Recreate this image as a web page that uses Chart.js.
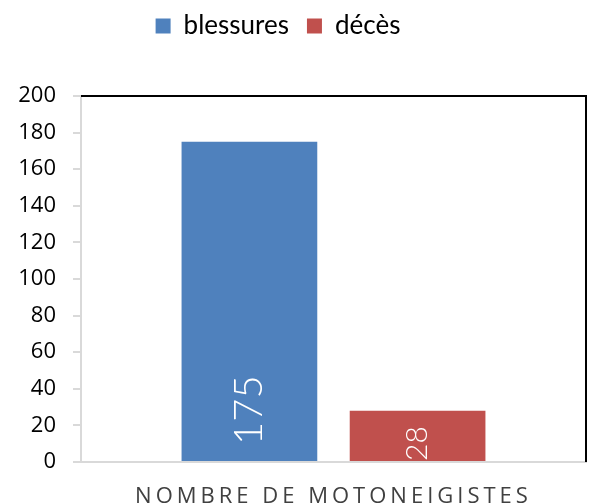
<!DOCTYPE html>
<html><head><meta charset="utf-8">
<script src="https://cdn.jsdelivr.net/npm/chart.js@4"></script>
<style>html,body{margin:0;padding:0;background:#fff}</style>
</head>
<body>
<canvas id="c" width="589" height="503"></canvas>
<script>
const categories = ["NOMBRE DE MOTONEIGISTES"];
const seriesNames = ["blessures", "décès"];
const blessures = [175];
const deces = [28];
const yMin = 0, yMax = 200, yStep = 20;
const seriesColors = ["#4F81BD", "#C0504D"];

const labelFontSizes = [40, 30];
const labelBaseOffsets = [16, 0];

const valueLabels = {
  id: 'valueLabels',
  afterDatasetsDraw(chart) {
    const ctx = chart.ctx;
    chart.data.datasets.forEach((ds, i) => {
      const meta = chart.getDatasetMeta(i);
      meta.data.forEach((bar, j) => {
        ctx.save();
        ctx.fillStyle = '#ffffff';
        ctx.font = '300 ' + labelFontSizes[i] + 'px Lato, "Open Sans", sans-serif';
        ctx.textAlign = 'left';
        ctx.textBaseline = 'middle';
        ctx.translate(bar.x, bar.base - labelBaseOffsets[i]);
        ctx.rotate(-Math.PI / 2);
        ctx.fillText(String(ds.data[j]), 0, 0);
        ctx.restore();
      });
    });
  }
};

const frame = {
  id: 'frame',
  afterDraw(chart) {
    const a = chart.chartArea, ctx = chart.ctx;
    ctx.save();
    ctx.strokeStyle = '#000';
    ctx.lineWidth = 2;
    ctx.beginPath();
    ctx.moveTo(a.left, a.top);
    ctx.lineTo(a.right, a.top);
    ctx.lineTo(a.right, a.bottom);
    ctx.stroke();
    ctx.restore();
  }
};

const tweaks = {
  id: 'tweaks',
  beforeInit(chart) {
    const lg = chart.legend;
    const fit = lg.fit;
    lg.fit = function () { fit.call(lg); lg.height = 96; };
    const draw = lg.draw;
    lg.draw = function () {
      const ctx = chart.ctx; ctx.save(); ctx.translate(-15, -5); draw.call(lg); ctx.restore();
    };
  },
  beforeDraw(chart) {
    const s = chart.scales.x;
    if (!s._spaced) {
      const orig = s.drawLabels;
      s.drawLabels = function (area) {
        const ctx = this.ctx; ctx.save(); ctx.letterSpacing = '4px'; orig.call(this, area); ctx.restore();
      };
      s._spaced = true;
    }
  }
};

new Chart(document.getElementById('c'), {
  type: 'bar',
  data: {
    labels: categories,
    datasets: [
      { label: seriesNames[0], data: blessures, backgroundColor: seriesColors[0] },
      { label: seriesNames[1], data: deces, backgroundColor: seriesColors[1] }
    ]
  },
  options: {
    responsive: false,
    animation: false,
    categoryPercentage: 0.666,
    barPercentage: 0.807,
    layout: { padding: { left: 0, right: 3, top: 0, bottom: 0 } },
    plugins: {
      legend: {
        position: 'top',
        labels: {
          boxWidth: 15, boxHeight: 15, padding: 18,
          color: '#000',
          font: { family: 'Lato, "Open Sans", sans-serif', size: 26, weight: 400 }
        }
      },
      tooltip: { enabled: false }
    },
    scales: {
      x: {
        grid: { display: false },
        border: { color: '#D9D9D9', width: 2 },
        ticks: {
          color: '#404040', padding: 14,
          font: { family: '"Open Sans", sans-serif', size: 22, weight: 400 }
        },
        afterFit(s) { s.height = 41; }
      },
      y: {
        min: yMin, max: yMax,
        grid: { drawOnChartArea: false, drawTicks: true, tickLength: 8, color: '#D9D9D9', lineWidth: 2 },
        border: { color: '#D9D9D9', width: 2 },
        ticks: {
          stepSize: yStep, color: '#000', padding: 17,
          font: { family: '"Open Sans", sans-serif', size: 22 }
        },
        afterFit(s) { s.width = 81; }
      }
    }
  },
  plugins: [valueLabels, frame, tweaks]
});
</script>
</body></html>
